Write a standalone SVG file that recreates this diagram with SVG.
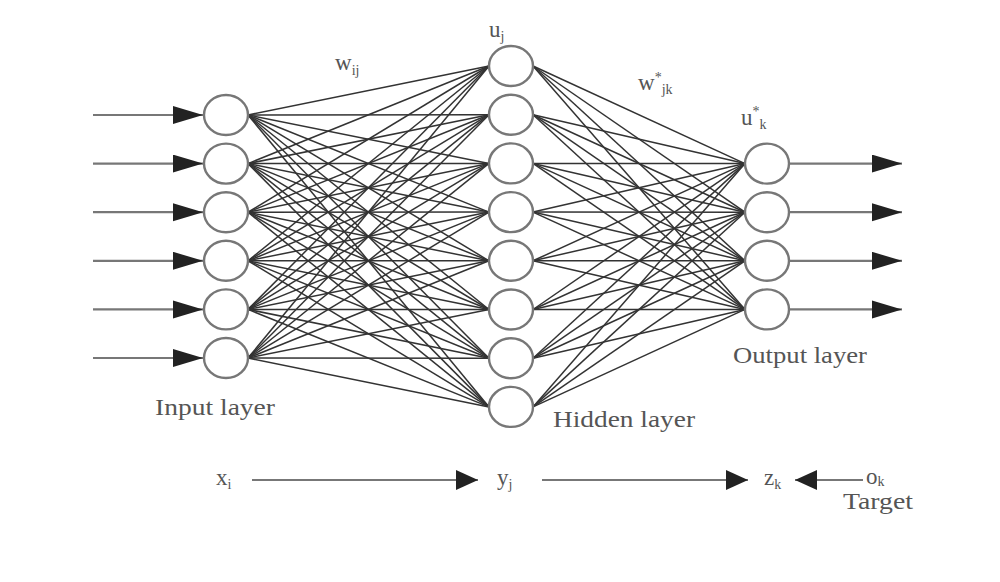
<svg xmlns="http://www.w3.org/2000/svg" width="1000" height="582" viewBox="0 0 1000 582">
<style>
.node{fill:#fff;stroke:#777;stroke-width:2.4}
.w{stroke:#333;stroke-width:1.5;fill:none}
.arr{stroke:#777;stroke-width:2.2;fill:none}
.big{marker-end:url(#headBig)}
.small{marker-end:url(#headSmall)}
text{font-family:"Liberation Serif","Times New Roman",serif;fill:#555}
.lbl{font-size:24px}
.sym{font-size:23px}
.sub{font-size:14px}
</style>
<defs>
<marker id="headBig" markerUnits="userSpaceOnUse" markerWidth="32" markerHeight="20" refX="30" refY="9" orient="auto" viewBox="0 0 32 20">
<path d="M0,0 L30,9 L0,18 z" fill="#222"/>
</marker>
<marker id="headSmall" markerUnits="userSpaceOnUse" markerWidth="24" markerHeight="22" refX="22" refY="10" orient="auto" viewBox="0 0 24 22">
<path d="M0,0 L22,10 L0,20 z" fill="#222"/>
</marker>
</defs>
<rect width="1000" height="582" fill="#fff"/>
<g id="connectors">
<g id="w-ij">
<line class="w" x1="248" y1="115" x2="489" y2="66"/><line class="w" x1="248" y1="115" x2="489" y2="114.7"/><line class="w" x1="248" y1="115" x2="489" y2="163.4"/><line class="w" x1="248" y1="115" x2="489" y2="212.1"/><line class="w" x1="248" y1="115" x2="489" y2="260.8"/><line class="w" x1="248" y1="115" x2="489" y2="309.5"/><line class="w" x1="248" y1="115" x2="489" y2="358.2"/><line class="w" x1="248" y1="115" x2="489" y2="406.9"/>
<line class="w" x1="248" y1="163.6" x2="489" y2="66"/><line class="w" x1="248" y1="163.6" x2="489" y2="114.7"/><line class="w" x1="248" y1="163.6" x2="489" y2="163.4"/><line class="w" x1="248" y1="163.6" x2="489" y2="212.1"/><line class="w" x1="248" y1="163.6" x2="489" y2="260.8"/><line class="w" x1="248" y1="163.6" x2="489" y2="309.5"/><line class="w" x1="248" y1="163.6" x2="489" y2="358.2"/><line class="w" x1="248" y1="163.6" x2="489" y2="406.9"/>
<line class="w" x1="248" y1="212.2" x2="489" y2="66"/><line class="w" x1="248" y1="212.2" x2="489" y2="114.7"/><line class="w" x1="248" y1="212.2" x2="489" y2="163.4"/><line class="w" x1="248" y1="212.2" x2="489" y2="212.1"/><line class="w" x1="248" y1="212.2" x2="489" y2="260.8"/><line class="w" x1="248" y1="212.2" x2="489" y2="309.5"/><line class="w" x1="248" y1="212.2" x2="489" y2="358.2"/><line class="w" x1="248" y1="212.2" x2="489" y2="406.9"/>
<line class="w" x1="248" y1="260.8" x2="489" y2="66"/><line class="w" x1="248" y1="260.8" x2="489" y2="114.7"/><line class="w" x1="248" y1="260.8" x2="489" y2="163.4"/><line class="w" x1="248" y1="260.8" x2="489" y2="212.1"/><line class="w" x1="248" y1="260.8" x2="489" y2="260.8"/><line class="w" x1="248" y1="260.8" x2="489" y2="309.5"/><line class="w" x1="248" y1="260.8" x2="489" y2="358.2"/><line class="w" x1="248" y1="260.8" x2="489" y2="406.9"/>
<line class="w" x1="248" y1="309.4" x2="489" y2="66"/><line class="w" x1="248" y1="309.4" x2="489" y2="114.7"/><line class="w" x1="248" y1="309.4" x2="489" y2="163.4"/><line class="w" x1="248" y1="309.4" x2="489" y2="212.1"/><line class="w" x1="248" y1="309.4" x2="489" y2="260.8"/><line class="w" x1="248" y1="309.4" x2="489" y2="309.5"/><line class="w" x1="248" y1="309.4" x2="489" y2="358.2"/><line class="w" x1="248" y1="309.4" x2="489" y2="406.9"/>
<line class="w" x1="248" y1="358" x2="489" y2="66"/><line class="w" x1="248" y1="358" x2="489" y2="114.7"/><line class="w" x1="248" y1="358" x2="489" y2="163.4"/><line class="w" x1="248" y1="358" x2="489" y2="212.1"/><line class="w" x1="248" y1="358" x2="489" y2="260.8"/><line class="w" x1="248" y1="358" x2="489" y2="309.5"/><line class="w" x1="248" y1="358" x2="489" y2="358.2"/><line class="w" x1="248" y1="358" x2="489" y2="406.9"/>
</g>
<g id="w-jk">
<line class="w" x1="533" y1="66" x2="745" y2="163.6"/><line class="w" x1="533" y1="66" x2="745" y2="212.2"/><line class="w" x1="533" y1="66" x2="745" y2="260.8"/><line class="w" x1="533" y1="66" x2="745" y2="309.4"/>
<line class="w" x1="533" y1="114.7" x2="745" y2="163.6"/><line class="w" x1="533" y1="114.7" x2="745" y2="212.2"/><line class="w" x1="533" y1="114.7" x2="745" y2="260.8"/><line class="w" x1="533" y1="114.7" x2="745" y2="309.4"/>
<line class="w" x1="533" y1="163.4" x2="745" y2="163.6"/><line class="w" x1="533" y1="163.4" x2="745" y2="212.2"/><line class="w" x1="533" y1="163.4" x2="745" y2="260.8"/><line class="w" x1="533" y1="163.4" x2="745" y2="309.4"/>
<line class="w" x1="533" y1="212.1" x2="745" y2="163.6"/><line class="w" x1="533" y1="212.1" x2="745" y2="212.2"/><line class="w" x1="533" y1="212.1" x2="745" y2="260.8"/><line class="w" x1="533" y1="212.1" x2="745" y2="309.4"/>
<line class="w" x1="533" y1="260.8" x2="745" y2="163.6"/><line class="w" x1="533" y1="260.8" x2="745" y2="212.2"/><line class="w" x1="533" y1="260.8" x2="745" y2="260.8"/><line class="w" x1="533" y1="260.8" x2="745" y2="309.4"/>
<line class="w" x1="533" y1="309.5" x2="745" y2="163.6"/><line class="w" x1="533" y1="309.5" x2="745" y2="212.2"/><line class="w" x1="533" y1="309.5" x2="745" y2="260.8"/><line class="w" x1="533" y1="309.5" x2="745" y2="309.4"/>
<line class="w" x1="533" y1="358.2" x2="745" y2="163.6"/><line class="w" x1="533" y1="358.2" x2="745" y2="212.2"/><line class="w" x1="533" y1="358.2" x2="745" y2="260.8"/><line class="w" x1="533" y1="358.2" x2="745" y2="309.4"/>
<line class="w" x1="533" y1="406.9" x2="745" y2="163.6"/><line class="w" x1="533" y1="406.9" x2="745" y2="212.2"/><line class="w" x1="533" y1="406.9" x2="745" y2="260.8"/><line class="w" x1="533" y1="406.9" x2="745" y2="309.4"/>
</g>
<g id="io-arrows">
<line class="arr big" x1="93" y1="115" x2="203" y2="115"/>
<line class="arr big" x1="93" y1="163.6" x2="203" y2="163.6"/>
<line class="arr big" x1="93" y1="212.2" x2="203" y2="212.2"/>
<line class="arr big" x1="93" y1="260.8" x2="203" y2="260.8"/>
<line class="arr big" x1="93" y1="309.4" x2="203" y2="309.4"/>
<line class="arr big" x1="93" y1="358" x2="203" y2="358"/>
<line class="arr big" x1="790" y1="163.6" x2="902" y2="163.6"/>
<line class="arr big" x1="790" y1="212.2" x2="902" y2="212.2"/>
<line class="arr big" x1="790" y1="260.8" x2="902" y2="260.8"/>
<line class="arr big" x1="790" y1="309.4" x2="902" y2="309.4"/>
</g>
<g id="flow-arrows">
<line class="arr small" x1="252" y1="480" x2="478" y2="480"/>
<line class="arr small" x1="542" y1="480" x2="748" y2="480"/>
<line class="arr small" x1="863" y1="480" x2="795" y2="480"/>
</g>
</g>
<g id="input-layer">
<ellipse class="node" cx="226" cy="115" rx="22" ry="20"/>
<ellipse class="node" cx="226" cy="163.6" rx="22" ry="20"/>
<ellipse class="node" cx="226" cy="212.2" rx="22" ry="20"/>
<ellipse class="node" cx="226" cy="260.8" rx="22" ry="20"/>
<ellipse class="node" cx="226" cy="309.4" rx="22" ry="20"/>
<ellipse class="node" cx="226" cy="358" rx="22" ry="20"/>
<text class="lbl" x="155" y="415" textLength="120" lengthAdjust="spacingAndGlyphs">Input layer</text>
</g>
<g id="hidden-layer">
<ellipse class="node" cx="511" cy="66" rx="22" ry="20"/>
<ellipse class="node" cx="511" cy="114.7" rx="22" ry="20"/>
<ellipse class="node" cx="511" cy="163.4" rx="22" ry="20"/>
<ellipse class="node" cx="511" cy="212.1" rx="22" ry="20"/>
<ellipse class="node" cx="511" cy="260.8" rx="22" ry="20"/>
<ellipse class="node" cx="511" cy="309.5" rx="22" ry="20"/>
<ellipse class="node" cx="511" cy="358.2" rx="22" ry="20"/>
<ellipse class="node" cx="511" cy="406.9" rx="22" ry="20"/>
<text class="lbl" x="553" y="427" textLength="142" lengthAdjust="spacingAndGlyphs">Hidden layer</text>
</g>
<g id="output-layer">
<ellipse class="node" cx="767" cy="163.6" rx="22" ry="20"/>
<ellipse class="node" cx="767" cy="212.2" rx="22" ry="20"/>
<ellipse class="node" cx="767" cy="260.8" rx="22" ry="20"/>
<ellipse class="node" cx="767" cy="309.4" rx="22" ry="20"/>
<text class="lbl" x="733" y="363" textLength="134" lengthAdjust="spacingAndGlyphs">Output layer</text>
</g>
<g id="labels">
<text class="sym" x="335" y="70">w<tspan class="sub" dy="5">ij</tspan></text>
<text class="sym" x="489" y="37">u<tspan class="sub" dy="4">j</tspan></text>
<text class="sym" x="638" y="90">w<tspan class="sub" dy="-8">*</tspan><tspan class="sub" dy="12">jk</tspan></text>
<text class="sym" x="741" y="125">u<tspan class="sub" dy="-9">*</tspan><tspan class="sub" dy="13">k</tspan></text>
<text class="sym" x="216" y="485">x<tspan class="sub" dy="4">i</tspan></text>
<text class="sym" x="497" y="485">y<tspan class="sub" dy="4">j</tspan></text>
<text class="sym" x="764" y="485">z<tspan class="sub" dy="4">k</tspan></text>
<text class="sym" x="866" y="484">o<tspan class="sub" dy="2">k</tspan></text>
<text class="lbl" x="843" y="509" textLength="70" lengthAdjust="spacingAndGlyphs">Target</text>
</g>
</svg>
